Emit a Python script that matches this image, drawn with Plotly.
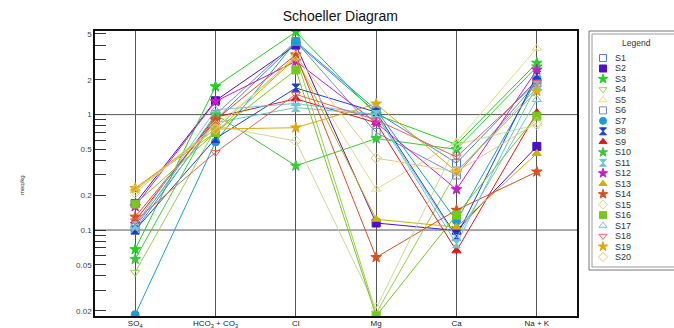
import math
import plotly.graph_objects as go

W, H = 674, 328

categories = ["SO<sub>4</sub>", "HCO<sub>3</sub> + CO<sub>3</sub>", "Cl", "Mg", "Ca", "Na + K"]
samples = ["S%d" % i for i in range(1, 21)]

so4 = [0.10, 0.17, 0.068, 0.043, 0.22, 0.105, 0.0185, 0.10, 0.12, 0.056,
       0.11, 0.16, 0.23, 0.13, 0.21, 0.168, 0.11, 0.12, 0.23, 0.22]
hco3 = [0.9, 1.32, 1.75, 0.75, 0.8, 1.0, 0.58, 0.62, 0.95, 1.0,
        0.85, 1.3, 0.7, 0.9, 0.8, 0.7, 1.1, 0.47, 0.75, 0.75]
cl = [4.2, 4.0, 5.2, 3.2, 3.0, 4.3, 4.3, 1.7, 1.37, 0.36,
      1.15, 2.9, 3.1, 3.3, 0.59, 2.44, 1.25, 1.5, 0.77, 3.2]
mg = [1.05, 0.115, 1.0, 0.019, 0.226, 0.70, 1.1, 1.05, 0.85, 0.62,
      1.0, 0.85, 0.124, 0.058, 0.021, 0.018, 1.0, 0.9, 1.24, 0.42]
ca = [0.38, 0.099, 0.55, 0.32, 0.58, 0.30, 0.12, 0.088, 0.066, 0.5,
      0.076, 0.225, 0.106, 0.149, 0.55, 0.135, 0.085, 0.43, 0.32, 0.32]
nak = [2.0, 0.53, 2.8, 1.7, 3.76, 1.9, 2.0, 2.2, 1.04, 2.6,
       1.8, 2.44, 0.46, 0.32, 0.82, 0.97, 1.35, 1.9, 1.59, 0.85]

colors = ["#4a7fd6", "#4b10c8", "#20d020", "#9acd50", "#e6d98a", "#6f90c8", "#1a9fd0",
          "#1c3fcf", "#e01a1a", "#3cc83c", "#6cc8c8", "#c81ec8", "#c8b400", "#d8501e",
          "#c8dc96", "#78c81e", "#78bee6", "#e06464", "#dcaa14", "#e6c882"]
symbols = ["square-open", "square", "star", "triangle-down-open", "triangle-up-open",
           "square-open", "circle", "hourglass", "triangle-up", "star", "hourglass", "star",
           "triangle-up", "star", "diamond-open", "square", "triangle-up-open",
           "triangle-down-open", "star", "diamond-open"]

ytickvals = [0.02, 0.05, 0.1, 0.2, 0.5, 1, 2, 5]
yticktext = ["0.02", "0.05", "0.1", "0.2", "0.5", "1", "2", "5"]

# plot area in pixels
pl, pr, pt, pb = 95, 577, 31, 316

fig = go.Figure()
for i, s in enumerate(samples):
    vals = [so4[i], hco3[i], cl[i], mg[i], ca[i], nak[i]]
    fig.add_trace(go.Scatter(
        x=list(range(len(categories))), y=vals, mode="lines+markers", name=s,
        line=dict(color=colors[i], width=1),
        marker=dict(symbol=symbols[i], color=colors[i], size=8,
                    line=dict(color=colors[i], width=1)),
        showlegend=False, xaxis="x", yaxis="y"))

# custom legend on its own axes
leg_rows = list(range(len(samples)))
for i, s in enumerate(samples):
    fig.add_trace(go.Scatter(
        x=[14], y=[leg_rows[i]], mode="markers",
        marker=dict(symbol=symbols[i], color=colors[i], size=7,
                    line=dict(color=colors[i], width=1)),
        showlegend=False, xaxis="x2", yaxis="y2", hoverinfo="skip"))

annotations = []
for i, s in enumerate(samples):
    annotations.append(dict(x=24, y=leg_rows[i], xref="x2", yref="y2", text=s,
                            showarrow=False, xanchor="left", yanchor="middle",
                            font=dict(family="Liberation Sans, Arial", size=9, color="#333")))
annotations.append(dict(x=47, y=-1.45, xref="x2", yref="y2", text="Legend", showarrow=False,
                        xanchor="center", yanchor="middle",
                        font=dict(family="Liberation Sans, Arial", size=8.5, color="#333")))
annotations.append(dict(x=22 / W, y=1 - 185 / H, xref="paper", yref="paper", text="meq/kg",
                        showarrow=False, textangle=-90, xanchor="center", yanchor="middle",
                        font=dict(family="Liberation Sans, Arial", size=6, color="#333")))

ylo, yhi = math.log10(0.018), math.log10(5.3)

shapes = [
    dict(type="line", xref="paper", yref="y", x0=pl / W, x1=pr / W, y0=1, y1=1,
         line=dict(color="#555", width=1), layer="below"),
    dict(type="line", xref="paper", yref="y", x0=pl / W, x1=pr / W, y0=0.1, y1=0.1,
         line=dict(color="#555", width=1), layer="below"),
    dict(type="rect", xref="paper", yref="paper", x0=589 / W, x1=680 / W,
         y0=1 - 270 / H, y1=1 - 31 / H, line=dict(color="#777", width=1)),
    dict(type="rect", xref="paper", yref="paper", x0=592 / W, x1=680 / W,
         y0=1 - 267 / H, y1=1 - 34 / H, line=dict(color="#999", width=1)),
]

fig.update_layout(
    template="none",
    width=W, height=H,
    margin=dict(l=0, r=0, t=0, b=0),
    paper_bgcolor="white", plot_bgcolor="white",
    title=dict(text="Schoeller Diagram", x=0.505, xanchor="center", y=1 - 16 / H,
               yanchor="middle", font=dict(family="Liberation Sans, Arial", size=14, color="#111")),
    xaxis=dict(domain=[pl / W, pr / W], range=[-0.5, 5.5], tickvals=list(range(6)),
               ticktext=categories, showgrid=True, gridcolor="#555", gridwidth=1,
               zeroline=False, showline=True, linecolor="#111", linewidth=1.5, mirror=True,
               ticks="", automargin=False, ticklabelstandoff=-1,
               tickfont=dict(family="Liberation Sans, Arial", size=8, color="#222")),
    yaxis=dict(domain=[1 - pb / H, 1 - pt / H], type="log", range=[ylo, yhi],
               tickvals=ytickvals, ticktext=yticktext, showgrid=False, zeroline=False,
               showline=True, linecolor="#111", linewidth=1.5, mirror=True,
               ticks="inside", ticklen=11, tickcolor="#333", tickwidth=1, automargin=False,
               minor=dict(ticks="inside", ticklen=11, tickcolor="#333", tickwidth=1,
                          dtick="D1", showgrid=False),
               tickfont=dict(family="Liberation Sans, Arial", size=8, color="#444")),
    xaxis2=dict(domain=[589 / W, 1.0], range=[0, 85], visible=False, fixedrange=True),
    yaxis2=dict(domain=[1 - 268 / H, 1 - 31 / H], range=[20.05, -2.58], visible=False,
                fixedrange=True),
    shapes=shapes,
    annotations=annotations,
)

fig.write_html("out.html")
